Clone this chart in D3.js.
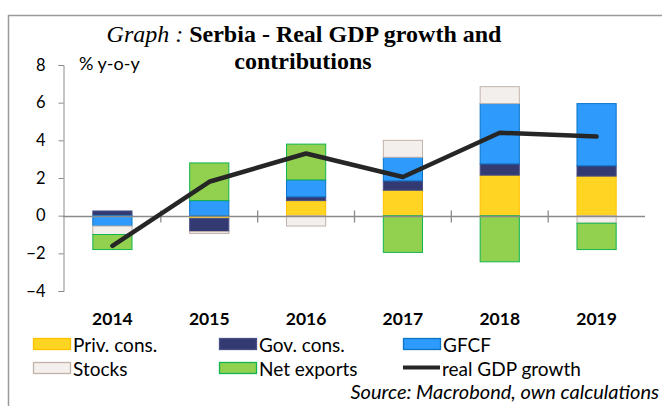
<!DOCTYPE html>
<html>
<head>
<meta charset="utf-8">
<script src="https://cdn.jsdelivr.net/npm/d3@7"></script>
<style>
  html, body { margin: 0; padding: 0; background: #fff; }
  svg { display: block; }
  text { font-family: Lato, "Open Sans", sans-serif; fill: #000; }
</style>
</head>
<body>
<svg id="chart" width="662" height="406"></svg>
<script>
// ---- data ----
const years = ["2014", "2015", "2016", "2017", "2018", "2019"];
const privCons   = [0.0, -0.15, 0.8, 1.35, 2.15, 2.1];
const govCons    = [0.25, -0.7, 0.2, 0.5, 0.6, 0.55];
const gfcf       = [-0.55, 0.8, 0.9, 1.25, 3.2, 3.3];
const stocks     = [-0.45, -0.1, -0.55, 0.9, 0.9, -0.4];
const netExports = [-0.8, 2.0, 1.9, -1.95, -2.45, -1.4];
const gdpGrowth  = [-1.6, 1.8, 3.3, 2.05, 4.4, 4.2];
const yTicks = [-4, -2, 0, 2, 4, 6, 8];
const seriesNames = ["Priv. cons.", "Gov. cons.", "GFCF", "Stocks", "Net exports"];
const lineName = "real GDP growth";

// ---- styles ----
const fills   = ["#FFD422", "#333A72", "#2E9BFC", "#F2EFEC", "#92D050"];
const strokes = ["#FFC000", "#4A4F88", "#0A74C8", "#C2B3AB", "#12B450"];

const svg = d3.select("#chart");

// frame
svg.append("line").attr("x1", 8).attr("x2", 662).attr("y1", 15.5).attr("y2", 15.5)
  .attr("stroke", "#9a9a9a").attr("stroke-width", 1.5);
svg.append("line").attr("x1", 8.5).attr("x2", 8.5).attr("y1", 15).attr("y2", 406)
  .attr("stroke", "#9a9a9a").attr("stroke-width", 1.5);

// scales
const x = d3.scaleBand().domain(years).range([64, 645])
  .paddingInner(0.585).paddingOuter(0.2925);
const y = d3.scaleLinear().domain([-4, 8]).range([291, 65]);

// table for stacking
const keys = ["priv", "gov", "gfcf", "stocks", "nx"];
const arrays = [privCons, govCons, gfcf, stocks, netExports];
const table = years.map((yr, i) => {
  const o = { year: yr };
  keys.forEach((k, j) => o[k] = arrays[j][i]);
  return o;
});
const stacked = d3.stack().keys(keys).offset(d3.stackOffsetDiverging)(table);

// y axis
const yAxis = svg.append("g").attr("transform", "translate(63.5,0)")
  .call(d3.axisLeft(y).tickValues(yTicks).tickSize(5).tickPadding(13).tickFormat(d3.format("d")));
yAxis.select(".domain").attr("stroke", "#8a8a8a");
yAxis.selectAll(".tick line").attr("stroke", "#8a8a8a");
yAxis.selectAll(".tick text").attr("font-size", "16.5px").attr("font-family", "Lato, sans-serif").attr("fill", "#000");

// bars
const groups = svg.append("g").selectAll("g").data(stacked).join("g")
  .attr("fill", (d, i) => fills[i]).attr("stroke", (d, i) => strokes[i]);
groups.selectAll("rect").data(d => d).join("rect")
  .attr("x", d => x(d.data.year) + 0.5)
  .attr("width", x.bandwidth() - 1)
  .attr("y", d => y(Math.max(d[0], d[1])))
  .attr("height", d => Math.abs(y(d[0]) - y(d[1])))
  .attr("stroke-width", 1);

// zero line + category ticks
const zeroY = Math.round(y(0)) + 0.5;
svg.append("line").attr("x1", 63).attr("x2", 645).attr("y1", zeroY).attr("y2", zeroY)
  .attr("stroke", "#8a8a8a").attr("stroke-width", 1.3);
const step = x.step();
svg.append("g").selectAll("line").data(years.slice(1)).join("line")
  .attr("x1", d => x(d) - x.paddingInner() * step / 2)
  .attr("x2", d => x(d) - x.paddingInner() * step / 2)
  .attr("y1", zeroY - 6).attr("y2", zeroY + 6)
  .attr("stroke", "#8a8a8a").attr("stroke-width", 1.3);

// GDP line
const line = d3.line().x((d, i) => x(years[i]) + x.bandwidth() / 2).y(d => y(d));
svg.append("path").datum(gdpGrowth).attr("d", line)
  .attr("fill", "none").attr("stroke", "#262626").attr("stroke-width", 4.5)
  .attr("stroke-linecap", "round").attr("stroke-linejoin", "round");

// x labels
svg.append("g").selectAll("text").data(years).join("text")
  .attr("x", d => x(d) + x.bandwidth() / 2).attr("y", 325)
  .attr("text-anchor", "middle").attr("font-weight", "bold").attr("font-size", "17.5px")
  .text(d => d);

// unit label
svg.append("text").attr("x", 79).attr("y", 70).attr("font-size", "18px").text("% y-o-y");

// title
const title = svg.append("text").attr("x", 304).attr("y", 42).attr("text-anchor", "middle")
  .style("font-family", "'Liberation Serif', 'Times New Roman', serif").attr("font-size", "24px");
title.append("tspan").attr("font-style", "italic").text("Graph : ");
title.append("tspan").attr("font-weight", "bold").text("Serbia - Real GDP growth and");
svg.append("text").attr("x", 303).attr("y", 69).attr("text-anchor", "middle")
  .style("font-family", "'Liberation Serif', serif").attr("font-size", "24px").attr("font-weight", "bold")
  .text("contributions");

// legend
const legendPos = [
  { sx: 33, ty: 352 }, { sx: 219, ty: 352 }, { sx: 403, ty: 352 },
  { sx: 33, ty: 376 }, { sx: 219, ty: 376 }
];
const leg = svg.append("g");
seriesNames.forEach((name, i) => {
  const p = legendPos[i];
  leg.append("rect").attr("x", p.sx + 0.5).attr("y", p.ty - 13.5).attr("width", 37).attr("height", 11)
    .attr("fill", fills[i]).attr("stroke", strokes[i]).attr("stroke-width", 1.3);
  leg.append("text").attr("x", p.sx + 40).attr("y", p.ty).attr("font-size", "19px").text(name);
});
leg.append("line").attr("x1", 403).attr("x2", 440).attr("y1", 367.5).attr("y2", 367.5)
  .attr("stroke", "#262626").attr("stroke-width", 4);
leg.append("text").attr("x", 442).attr("y", 376).attr("font-size", "19px").text(lineName);

// source
svg.append("text").attr("x", 659).attr("y", 399).attr("text-anchor", "end")
  .attr("font-style", "italic").attr("font-size", "20px").text("Source: Macrobond, own calculations");
</script>
</body>
</html>
